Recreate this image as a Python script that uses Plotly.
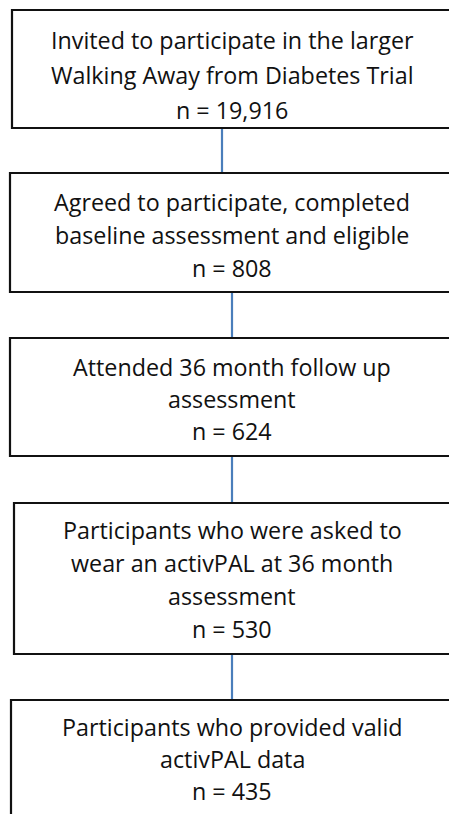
import plotly.graph_objects as go

# Flowchart content
stage_lines = [
    ["Invited to participate in the larger", "Walking Away from Diabetes Trial"],
    ["Agreed to participate, completed", "baseline assessment and eligible"],
    ["Attended 36 month follow up", "assessment"],
    ["Participants who were asked to", "wear an activPAL at 36 month", "assessment"],
    ["Participants who provided valid", "activPAL data"],
]
stage_n = ["19,916", "808", "624", "530", "435"]

# layout geometry (pixels)
W, H = 449, 814
boxes = [  # x0, y0, x1, y1
    (12, 10, 456, 128),
    (10, 173, 456, 292),
    (10, 338, 456, 456),
    (14, 503, 456, 654),
    (11, 700, 456, 830),
]
connector_x = [222, 232, 232, 232]
line_y0 = [40, 202, 367, 530, 727]
line_step = [35, 33, 32, 33, 32]
text_cx = 232

fig = go.Figure()
fig.add_trace(go.Scatter(x=[0, W], y=[0, H], mode="markers",
                         marker=dict(opacity=0), hoverinfo="skip", showlegend=False))

for (x0, y0, x1, y1) in boxes:
    fig.add_shape(type="rect", x0=x0, y0=y0, x1=x1, y1=y1, xref="x", yref="y",
                  line=dict(color="#111111", width=2.2), fillcolor="white", layer="below")

for i, cx in enumerate(connector_x):
    fig.add_shape(type="line", x0=cx, x1=cx, y0=boxes[i][3] + 1, y1=boxes[i + 1][1] - 1,
                  xref="x", yref="y", line=dict(color="#4a7ebb", width=2.2))

for i, lines in enumerate(stage_lines):
    all_lines = lines + ["n = " + stage_n[i]]
    for j, t in enumerate(all_lines):
        fig.add_annotation(x=text_cx, y=line_y0[i] + j * line_step[i],
                           text=t, showarrow=False, xref="x", yref="y",
                           xanchor="center", yanchor="middle",
                           font=dict(family="Open Sans", size=23.3, color="#111111"))

fig.update_xaxes(range=[0, W], visible=False, fixedrange=True)
fig.update_yaxes(range=[H, 0], visible=False, fixedrange=True)
fig.update_layout(width=W, height=H, margin=dict(l=0, r=0, t=0, b=0),
                  plot_bgcolor="white", paper_bgcolor="white", showlegend=False)
fig.write_html("out.html", config={"displayModeBar": False},
               post_script="document.body.style.margin='0';document.body.style.overflow='hidden';")
